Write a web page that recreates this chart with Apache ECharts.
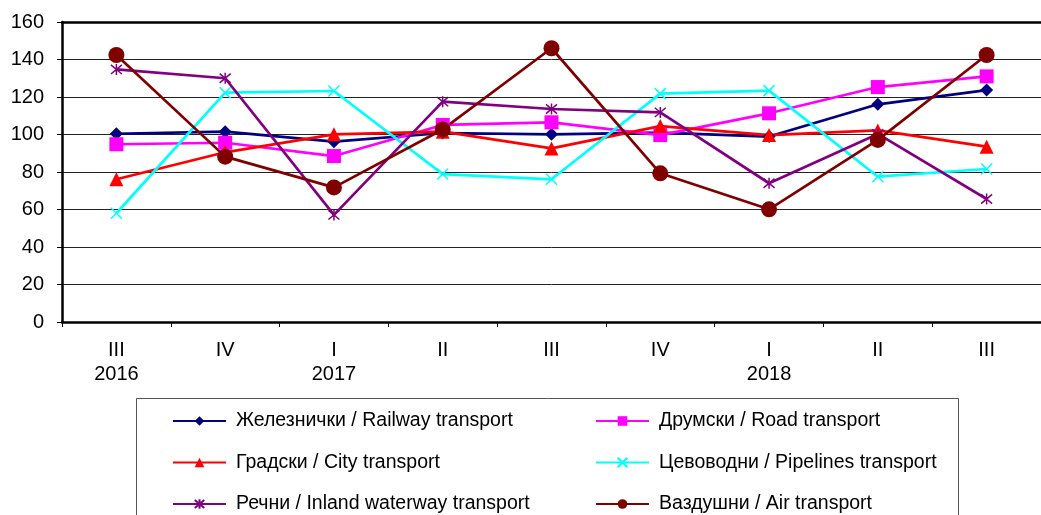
<!DOCTYPE html>
<html>
<head>
<meta charset="utf-8">
<script src="https://cdn.jsdelivr.net/npm/echarts@6/dist/echarts.min.js"></script>
<style>
  html, body { margin: 0; padding: 0; background: #fff; }
  #transport { width: 1041px; height: 515px; }
</style>
</head>
<body>
<div id="transport"></div>
<script>
// quarters
const quarters = ['III\n2016', 'IV', 'I\n2017', 'II', 'III', 'IV', 'I\n2018', 'II', 'III'];
const yTicks = [0, 20, 40, 60, 80, 100, 120, 140, 160];

const railway = [100.4, 101.5, 96.2, 100.8, 100.1, 101, 98.9, 116.1, 123.7];
const road = [94.8, 95.6, 88.5, 105.1, 106.5, 99.7, 111.3, 125.3, 131];
const city = [76.1, 90.5, 100.1, 101.5, 92.6, 104.5, 99.7, 102.2, 93.5];
const pipelines = [58, 122.3, 123.2, 78.9, 76.1, 121.8, 123.4, 77.5, 81.6];
const waterway = [134.7, 130, 57.1, 117.5, 113.6, 111.8, 74, 100.3, 65.6];
const air = [142.4, 88.2, 71.8, 102.7, 146, 79.3, 60.1, 97.1, 142.4];

const names = {
  railway: 'Железнички / Railway transport',
  road: 'Друмски / Road transport',
  city: 'Градски / City transport',
  pipelines: 'Цевоводни / Pipelines transport',
  waterway: 'Речни / Inland waterway transport',
  air: 'Ваздушни / Air transport'
};

var chartDom = document.getElementById('transport');
var myChart = echarts.init(chartDom);
var option;

const font = 'Liberation Sans, Arial, sans-serif';
const crossPath = 'path://M0,0L10,10M10,0L0,10';
const starPath = 'path://M0,0L10,10M10,0L0,10M5,-1L5,11';

function lineSeries(name, values, color, symbol, size, extra) {
  return Object.assign({
    name: name,
    type: 'line',
    data: values,
    symbol: symbol,
    symbolSize: size,
    lineStyle: { color: color, width: 2.7 },
    itemStyle: { color: color },
    z: 3
  }, extra || {});
}

const legendText = { fontFamily: font, fontSize: 19.5, color: '#000', lineHeight: 20, padding: [0, 0, 0, 5] };

option = {
  animation: false,
  backgroundColor: '#fff',
  grid: { left: 62, top: 22, width: 992, height: 300 },
  legend: [
    {
      orient: 'vertical',
      left: 172,
      top: 411,
      height: 200,
      padding: 0,
      itemWidth: 53,
      itemHeight: 12,
      itemGap: 21.5,
      textStyle: legendText,
      data: [names.railway, names.city, names.waterway]
    },
    {
      orient: 'vertical',
      left: 595,
      top: 411,
      height: 200,
      padding: 0,
      itemWidth: 53,
      itemHeight: 12,
      itemGap: 21.5,
      textStyle: legendText,
      data: [names.road, names.pipelines, names.air]
    }
  ],
  graphic: [
    {
      type: 'rect',
      shape: { x: 136.5, y: 398.5, width: 822, height: 140 },
      style: { fill: 'none', stroke: '#555', lineWidth: 1 },
      z: -1
    }
  ],
  xAxis: [
    {
      type: 'category',
      data: quarters,
      boundaryGap: true,
      axisLine: { lineStyle: { color: '#000', width: 2.5 } },
      axisTick: { show: true, interval: 0, length: 5, lineStyle: { color: '#000', width: 1 } },
      axisLabel: { interval: 0, fontFamily: font, fontSize: 20, color: '#000', lineHeight: 24, margin: 16 },
      splitLine: { show: false }
    },
    {
      type: 'category',
      data: quarters,
      position: 'top',
      axisLine: { lineStyle: { color: '#000', width: 2.5 } },
      axisTick: { show: false },
      axisLabel: { show: false }
    }
  ],
  yAxis: {
    type: 'value',
    min: yTicks[0],
    max: yTicks[yTicks.length - 1],
    interval: 20,
    axisLine: { show: true, lineStyle: { color: '#000', width: 2.5 } },
    axisTick: { show: true, length: 5, lineStyle: { color: '#000', width: 1 } },
    axisLabel: { fontFamily: font, fontSize: 20, color: '#000', margin: 18 },
    splitLine: { show: true, lineStyle: { color: '#222', width: 1 } }
  },
  series: [
    lineSeries(names.railway, railway, '#000080', 'diamond', 13),
    lineSeries(names.road, road, '#FF00FF', 'rect', 14),
    lineSeries(names.city, city, '#FF0000', 'triangle', 14),
    lineSeries(names.pipelines, pipelines, '#00FFFF', crossPath, 11, {
      itemStyle: { color: '#00FFFF', borderColor: '#00FFFF', borderWidth: 1.5 }
    }),
    lineSeries(names.waterway, waterway, '#800080', starPath, 11, {
      itemStyle: { color: '#800080', borderColor: '#800080', borderWidth: 1.5 }
    }),
    lineSeries(names.air, air, '#800000', 'circle', 16)
  ]
};

option && myChart.setOption(option);
</script>
</body>
</html>
